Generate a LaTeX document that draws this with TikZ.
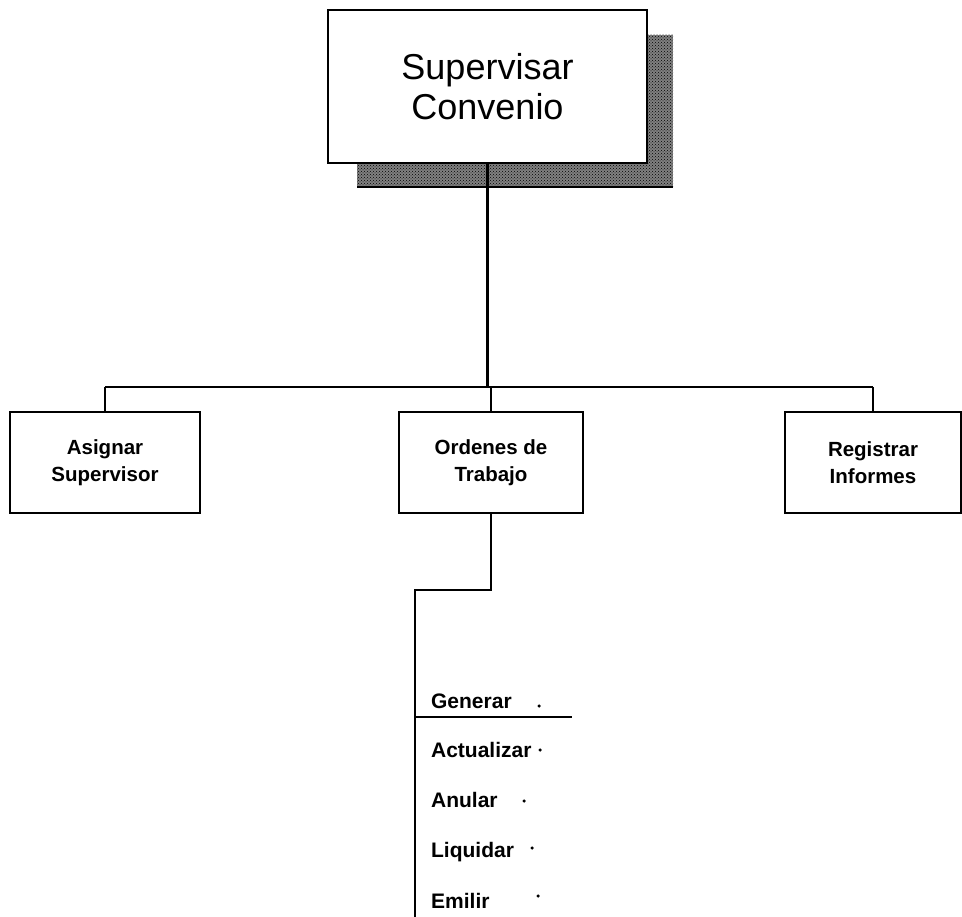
\documentclass[tikz,border=0pt]{standalone}
\usepackage{fontspec}
\setmainfont{Liberation Sans}
\usetikzlibrary{patterns}
\begin{document}
\begin{tikzpicture}[x=1pt,y=-1pt,
  every path/.style={line width=2.3pt},
  boxstyle/.style={draw=black,fill=white,line width=2.3pt,inner sep=0pt,align=center},
  childbox/.style={boxstyle,minimum height=101pt,font=\bfseries\fontsize{20.5}{27}\selectfont},
  itemlabel/.style={anchor=base west,inner sep=0pt,font=\bfseries\fontsize{21}{24}\selectfont},
  leaderdot/.style={fill=black,draw=none,circle,inner sep=0pt,minimum size=3.5pt}]
\useasboundingbox (0,0) rectangle (962,917);

% halftone shadow behind the root box
\fill[black!50] (357,35) rectangle (673,187);
\fill[pattern=crosshatch dots,pattern color=black] (357,35) rectangle (673,187);
\draw (357,187) -- (673,187);

% root box
\node[boxstyle,minimum width=319pt,minimum height=153pt,
      font=\fontsize{36}{40}\selectfont] (root) at (487.5,86.5) {Supervisar\\Convenio};

% second level
\node[childbox,minimum width=190pt] (asig) at (105,462.5) {Asignar\\Supervisor};
\node[childbox,minimum width=184pt] (ord)  at (491,462.5) {Ordenes de\\Trabajo};
\node[childbox,minimum width=176pt] (reg)  at (873,462.5) {Registrar\\Informes};

% bus between the levels
\coordinate (busL) at (105,387);
\coordinate (busR) at (873,387);
\draw (busL) -- (busR);
\draw (root.south) -- (root.south |- busL);
\draw (busL) -- (asig.north);
\draw (ord.north |- busL) -- (ord.north);
\draw (busR) -- (reg.north);

% branch to the list of operations
\coordinate (corner) at (415,590);
\coordinate (listend) at (415,917);
\draw (ord.south) |- (corner) -- (listend);

% operations
\node[itemlabel] (gen) at (430,708) {Generar};
\node[itemlabel] (act) at (430,757) {Actualizar};
\node[itemlabel] (anu) at (430,807) {Anular};
\node[itemlabel] (liq) at (430,857) {Liquidar};
\node[itemlabel] (emi) at (430,908) {Emilir};

\coordinate (rule) at (572,717);
\draw (corner |- rule) -- (rule);

\node[leaderdot] at (539,706) {};
\node[leaderdot] at (540,750) {};
\node[leaderdot] at (524,801) {};
\node[leaderdot] at (532,848) {};
\node[leaderdot] at (538,896) {};
\end{tikzpicture}
\end{document}
